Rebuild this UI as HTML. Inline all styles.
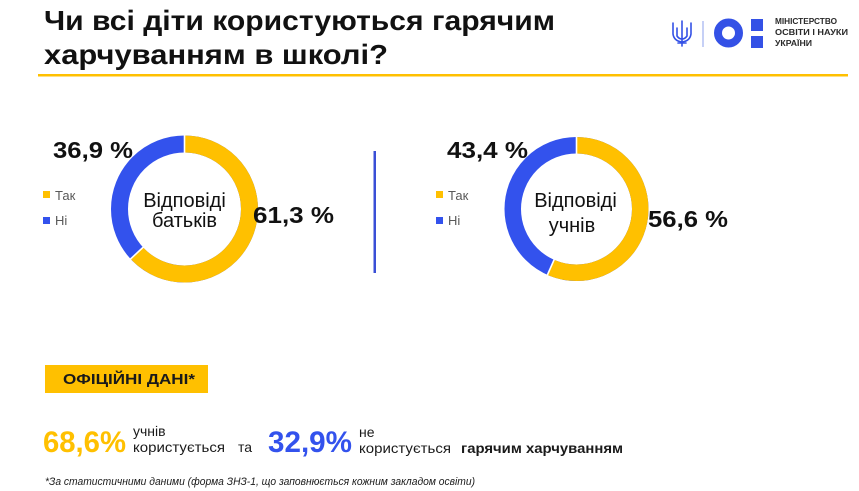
<!DOCTYPE html>
<html><head><meta charset="utf-8"><style>
html,body{margin:0;padding:0;background:#fff;}
svg{display:block;}
text{font-family:"Liberation Sans","DejaVu Sans",sans-serif;}
</style></head><body>
<svg width="859" height="491" viewBox="0 0 859 491" xmlns="http://www.w3.org/2000/svg">
<rect width="859" height="491" fill="#fff"/>
<!-- title -->
<text x="44" y="30" font-size="28" font-weight="bold" fill="#111" textLength="511" lengthAdjust="spacingAndGlyphs">Чи всі діти користуються гарячим</text>
<text x="44" y="64" font-size="28" font-weight="bold" fill="#111" textLength="344" lengthAdjust="spacingAndGlyphs">харчуванням в школі?</text>
<rect x="38" y="74" width="810" height="2.5" fill="#FFC000"/>
<!-- logo -->
<g stroke="#3451E6" stroke-width="1.6" fill="none" stroke-linecap="round" stroke-linejoin="round">
<path d="M682 21 L682 46"/>
<path d="M673 23 L673 34 Q674 41 682 42 Q690 41 691 34 L691 23"/>
<path d="M677 28 L677 36 Q679 39 682 39 Q685 39 687 36 L687 28"/>
<path d="M678 43 L686 43"/>
</g>
<rect x="702.5" y="21" width="1" height="26" fill="#8da0ee"/>
<circle cx="728.5" cy="33" r="10.5" fill="none" stroke="#3451E6" stroke-width="8"/>
<rect x="751" y="19" width="12" height="12" fill="#3451E6"/>
<rect x="751" y="36" width="12" height="12" fill="#3451E6"/>
<text x="775" y="24" font-size="8" font-weight="bold" fill="#2a2a2a" textLength="62" lengthAdjust="spacingAndGlyphs">МІНІСТЕРСТВО</text>
<text x="775" y="35" font-size="8" font-weight="bold" fill="#2a2a2a" textLength="73" lengthAdjust="spacingAndGlyphs">ОСВІТИ І НАУКИ</text>
<text x="775" y="46" font-size="8" font-weight="bold" fill="#2a2a2a" textLength="37" lengthAdjust="spacingAndGlyphs">УКРАЇНИ</text>

<!-- left donut -->
<circle cx="184.5" cy="209" r="65" fill="none" stroke="#3352ED" stroke-width="17"/>
<circle cx="184.5" cy="209" r="65" fill="none" stroke="#FFC000" stroke-width="17" stroke-dasharray="257.8 408.4" transform="rotate(-90 184.5 209)"/>
<line x1="184.5" y1="134" x2="184.5" y2="153" stroke="#fff" stroke-width="1.6"/>
<line x1="143.4" y1="247" x2="130.2" y2="259.3" stroke="#fff" stroke-width="1.6"/>
<text x="184.5" y="207" font-size="20" fill="#111" text-anchor="middle">Відповіді</text>
<text x="184.5" y="227" font-size="20" fill="#111" text-anchor="middle">батьків</text>
<text x="53" y="158" font-size="23" font-weight="bold" fill="#111" textLength="80" lengthAdjust="spacingAndGlyphs">36,9 %</text>
<text x="253" y="223" font-size="23" font-weight="bold" fill="#111" textLength="81" lengthAdjust="spacingAndGlyphs">61,3 %</text>
<rect x="43" y="191" width="7" height="7" fill="#FFC000"/>
<text x="55" y="200" font-size="13" fill="#595959">Так</text>
<rect x="43" y="217" width="7" height="7" fill="#3352ED"/>
<text x="55" y="225" font-size="13" fill="#595959">Ні</text>

<!-- divider -->
<rect x="373.5" y="151" width="2.5" height="122" fill="#3a4fd6"/>

<!-- right donut -->
<circle cx="576.5" cy="209" r="63.75" fill="none" stroke="#3352ED" stroke-width="16.5"/>
<circle cx="576.5" cy="209" r="63.75" fill="none" stroke="#FFC000" stroke-width="16.5" stroke-dasharray="226.8 400.6" transform="rotate(-90 576.5 209)"/>
<line x1="576.5" y1="136" x2="576.5" y2="155" stroke="#fff" stroke-width="1.6"/>
<line x1="554.3" y1="259.3" x2="547" y2="275.8" stroke="#fff" stroke-width="1.6"/>
<text x="575.5" y="207" font-size="20" fill="#111" text-anchor="middle">Відповіді</text>
<text x="572" y="232" font-size="20" fill="#111" text-anchor="middle">учнів</text>
<text x="447" y="158" font-size="23" font-weight="bold" fill="#111" textLength="81" lengthAdjust="spacingAndGlyphs">43,4 %</text>
<text x="648" y="227" font-size="23" font-weight="bold" fill="#111" textLength="80" lengthAdjust="spacingAndGlyphs">56,6 %</text>
<rect x="436" y="191" width="7" height="7" fill="#FFC000"/>
<text x="448" y="200" font-size="13" fill="#595959">Так</text>
<rect x="436" y="217" width="7" height="7" fill="#3352ED"/>
<text x="448" y="225" font-size="13" fill="#595959">Ні</text>

<!-- official data -->
<rect x="45" y="365" width="163" height="28" fill="#FFC000"/>
<text x="63" y="384" font-size="15" font-weight="bold" fill="#1a1a1a" textLength="132" lengthAdjust="spacingAndGlyphs">ОФІЦІЙНІ ДАНІ*</text>

<text x="43" y="452" font-size="30" font-weight="bold" fill="#FFC000" textLength="83" lengthAdjust="spacingAndGlyphs">68,6%</text>
<text x="133" y="436" font-size="14" fill="#1a1a1a">учнів</text>
<text x="133" y="452" font-size="14" fill="#1a1a1a" textLength="92" lengthAdjust="spacingAndGlyphs">користується</text>
<text x="238" y="452" font-size="14" fill="#1a1a1a">та</text>
<text x="268" y="452" font-size="30" font-weight="bold" fill="#3352ED" textLength="84" lengthAdjust="spacingAndGlyphs">32,9%</text>
<text x="359" y="437" font-size="14" fill="#1a1a1a">не</text>
<text x="359" y="453" font-size="14" fill="#1a1a1a" textLength="92" lengthAdjust="spacingAndGlyphs">користується</text>
<text x="461" y="453" font-size="14" font-weight="bold" fill="#1a1a1a" textLength="162" lengthAdjust="spacingAndGlyphs">гарячим харчуванням</text>

<text x="45" y="485" font-size="11" font-style="italic" fill="#1a1a1a" textLength="430" lengthAdjust="spacingAndGlyphs">*За статистичними даними (форма ЗНЗ-1, що заповнюється кожним закладом освіти)</text>
</svg>
</body></html>
